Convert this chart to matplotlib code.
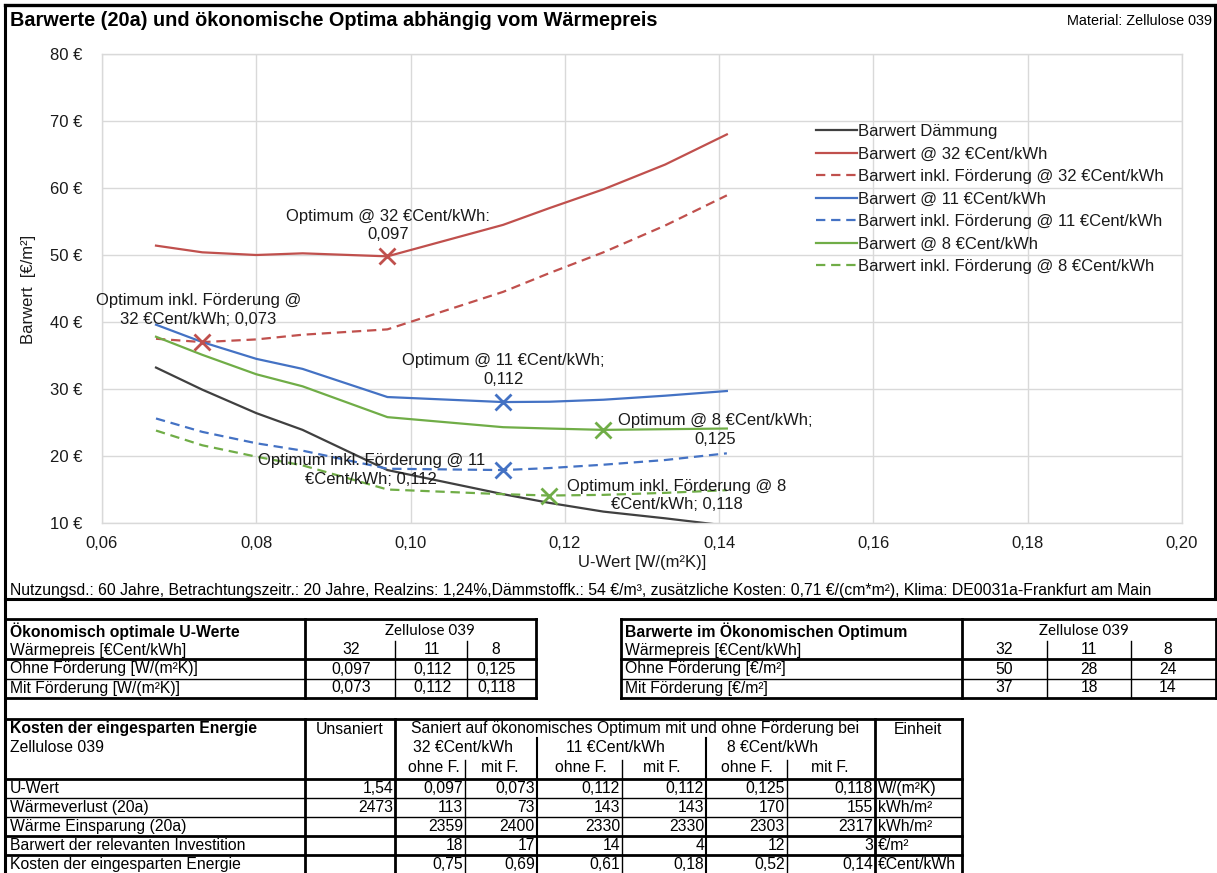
import matplotlib
matplotlib.use("Agg")
import matplotlib.pyplot as plt

plt.rcParams['font.family'] = ['Liberation Sans', 'DejaVu Sans']

W, H = 1217, 873

# ---------------- chart data ----------------
u_werte = [0.067, 0.073, 0.080, 0.086, 0.097, 0.112, 0.118, 0.125, 0.133, 0.141]
bw_daemmung = [33.2, 29.9, 26.4, 23.9, 17.9, 14.3, 13.0, 11.7, 10.7, 9.6]
bw_32 = [51.4, 50.4, 50.0, 50.25, 49.8, 54.5, 57.0, 59.8, 63.5, 68.0]
bw_32_f = [37.5, 37.0, 37.4, 38.1, 38.9, 44.5, 47.3, 50.4, 54.4, 58.9]
bw_11 = [39.6, 37.0, 34.5, 33.0, 28.8, 28.05, 28.1, 28.4, 29.0, 29.7]
bw_11_f = [25.6, 23.6, 21.9, 20.8, 18.1, 17.9, 18.2, 18.7, 19.4, 20.4]
bw_8 = [37.8, 35.1, 32.2, 30.4, 25.8, 24.3, 24.1, 23.9, 24.0, 24.1]
bw_8_f = [23.8, 21.6, 19.9, 18.6, 15.0, 14.3, 14.1, 14.2, 14.5, 14.9]

x_ticks = [0.06, 0.08, 0.10, 0.12, 0.14, 0.16, 0.18, 0.20]
y_ticks = [10, 20, 30, 40, 50, 60, 70, 80]

# ---------------- table data ----------------
waermepreise = [32, 11, 8]
opt_u_ohne = [0.097, 0.112, 0.125]
opt_u_mit = [0.073, 0.112, 0.118]
opt_bw_ohne = [50, 28, 24]
opt_bw_mit = [37, 18, 14]

kosten_zeilen = ["U-Wert", "Wärmeverlust (20a)", "Wärme Einsparung (20a)",
                 "Barwert der relevanten Investition", "Kosten der eingesparten Energie"]
kosten_dezimal = [3, 0, 0, 0, 2]
unsaniert = [1.54, 2473, None, None, None]
saniert = [
    [0.097, 0.073, 0.112, 0.112, 0.125, 0.118],
    [113, 73, 143, 143, 170, 155],
    [2359, 2400, 2330, 2330, 2303, 2317],
    [18, 17, 14, 4, 12, 3],
    [0.75, 0.69, 0.61, 0.18, 0.52, 0.14],
]
einheiten = ["W/(m²K)", "kWh/m²", "kWh/m²", "€/m²", "€Cent/kWh"]

C_BLACK = '#404040'
C_RED = '#C0504D'
C_BLUE = '#4472C4'
C_GREEN = '#70AD47'
TXT = '#1a1a1a'
FS = 12
TFS = 11.3


def de(v, d):
    return f"{v:.{d}f}".replace('.', ',')


fig = plt.figure(figsize=(W / 100, H / 100), dpi=100)
bg = fig.add_axes([0, 0, 1, 1])
bg.set_xlim(0, W)
bg.set_ylim(H, 0)
bg.axis('off')


def hline(y, x0, x1, lw=1.0, c='black'):
    bg.plot([x0, x1], [y, y], color=c, lw=lw, solid_capstyle='projecting')


def vline(x, y0, y1, lw=1.0, c='black'):
    bg.plot([x, x], [y0, y1], color=c, lw=lw, solid_capstyle='projecting')


def txt(x, y, s, ha='left', fs=TFS, **kw):
    bg.text(x, y, s, ha=ha, va='center', fontsize=fs, color='black', **kw)


# ---------------- chart frame and captions ----------------
hline(5, 5, 1215, 2.4)
hline(599, 5, 1215, 2.2)
vline(1215, 5, 599, 2.2)
vline(5, 5, H, 2.2)

txt(10, 20, "Barwerte (20a) und ökonomische Optima abhängig vom Wärmepreis",
    fs=14.3, fontweight='bold')
txt(1212, 21, "Material: Zellulose 039", ha='right', fs=10.4)
txt(10, 591, "Nutzungsd.: 60 Jahre, Betrachtungszeitr.: 20 Jahre, Realzins: 1,24%,"
    "Dämmstoffk.: 54 €/m³, zusätzliche Kosten: 0,71 €/(cm*m²), Klima: DE0031a-Frankfurt am Main",
    fs=11.3)
bg.text(29, 289, "Barwert  [€/m²]", rotation=90, ha='center', va='center', fontsize=FS, color=TXT)
bg.text(642, 563, "U-Wert [W/(m²K)]", ha='center', va='center', fontsize=FS, color=TXT)

# ---------------- chart ----------------
ax = fig.add_axes([102 / W, 1 - 523 / H, (1182 - 102) / W, (523 - 54) / H])
ax.set_xlim(x_ticks[0], x_ticks[-1])
ax.set_ylim(y_ticks[0], y_ticks[-1])
ax.set_xticks(x_ticks)
ax.set_xticklabels([de(v, 2) for v in x_ticks])
ax.set_yticks(y_ticks)
ax.set_yticklabels([f"{v} €" for v in y_ticks])
ax.tick_params(length=0, labelsize=FS, colors=TXT)
ax.tick_params(axis='y', pad=14)
ax.tick_params(axis='x', pad=9)
ax.grid(True, color='#d9d9d9', lw=1.0)
ax.set_axisbelow(True)
for sp in ax.spines.values():
    sp.set_color('#d9d9d9')
    sp.set_linewidth(1.0)

LW = 1.6
DASH = (0, (4.2, 2.6))
series = [
    (bw_daemmung, C_BLACK, '-', "Barwert Dämmung"),
    (bw_32, C_RED, '-', "Barwert @ 32 €Cent/kWh"),
    (bw_32_f, C_RED, DASH, "Barwert inkl. Förderung @ 32 €Cent/kWh"),
    (bw_11, C_BLUE, '-', "Barwert @ 11 €Cent/kWh"),
    (bw_11_f, C_BLUE, DASH, "Barwert inkl. Förderung @ 11 €Cent/kWh"),
    (bw_8, C_GREEN, '-', "Barwert @ 8 €Cent/kWh"),
    (bw_8_f, C_GREEN, DASH, "Barwert inkl. Förderung @ 8 €Cent/kWh"),
]
handles = []
for vals, col, ls, lab in series:
    h, = ax.plot(u_werte, vals, color=col, ls=ls, lw=LW, label=lab)
    handles.append(h)

# optimum markers with labels (offsets in pixels from the marker)
optima = [
    (bw_32, opt_u_ohne[0], C_RED, "Optimum @ 32 €Cent/kWh:\n0,097", (1, 31)),
    (bw_32_f, opt_u_mit[0], C_RED, "Optimum inkl. Förderung @\n32 €Cent/kWh; 0,073", (-4, 32)),
    (bw_11, opt_u_ohne[1], C_BLUE, "Optimum @ 11 €Cent/kWh;\n0,112", (0, 32)),
    (bw_8, opt_u_ohne[2], C_GREEN, "Optimum @ 8 €Cent/kWh;\n0,125", (112, 0)),
    (bw_11_f, opt_u_mit[1], C_BLUE, "Optimum inkl. Förderung @ 11\n€Cent/kWh; 0,112", (-132, 0)),
    (bw_8_f, opt_u_mit[2], C_GREEN, "Optimum inkl. Förderung @ 8\n€Cent/kWh; 0,118", (127, 0)),
]
for vals, u_opt, col, lab, off in optima:
    i = min(range(len(u_werte)), key=lambda k: abs(u_werte[k] - u_opt))
    ax.plot([u_werte[i]], [vals[i]], ls='none', marker='x', ms=11, mew=2.0, color=col, zorder=5)
    ax.annotate(lab, (u_werte[i], vals[i]), xytext=off, textcoords='offset pixels',
                ha='center', va='center', multialignment='center', fontsize=FS,
                color=TXT, linespacing=1.3, zorder=6)

leg = ax.legend(handles, [s[3] for s in series], loc='upper left',
                bbox_to_anchor=(816 / W, 1 - 124 / H), bbox_transform=fig.transFigure,
                frameon=False, fontsize=FS, handlelength=2.45, handletextpad=0.1,
                labelspacing=0.45, borderaxespad=0, borderpad=0)
for t in leg.get_texts():
    t.set_color(TXT)

# ---------------- table 1: economically optimal U-values ----------------
T, B = 619, 698
hline(T, 5, 536, 2)
hline(B, 5, 536, 2)
hline(659, 5, 536, 2)
hline(679, 5, 536, 1)
vline(305, T, B, 2)
vline(536, T, B, 2)
for x in (395, 467):
    vline(x, 641, B, 1)
txt(10, 631, "Ökonomisch optimale U-Werte", fontweight='bold')
txt(10, 650, "Wärmepreis [€Cent/kWh]")
txt(10, 669, "Ohne Förderung [W/(m²K)]")
txt(10, 688, "Mit Förderung [W/(m²K)]")
txt(430, 631, "Zellulose 039", ha='center', fs=10.9, family='Lato')
for x, p, a, b in zip((351, 432, 496), waermepreise, opt_u_ohne, opt_u_mit):
    txt(x, 650, str(p), ha='center')
    txt(x, 669, de(a, 3), ha='center')
    txt(x, 688, de(b, 3), ha='center')

# ---------------- table 2: present values at the optimum ----------------
hline(T, 621, 1216, 2)
hline(B, 621, 1216, 2)
hline(659, 621, 1216, 2)
hline(679, 621, 1216, 1)
vline(621, T, B, 2)
vline(962, T, B, 2)
vline(1216, T, B, 2)
for x in (1047, 1131):
    vline(x, 641, B, 1)
txt(625, 631, "Barwerte im Ökonomischen Optimum", fontweight='bold')
txt(625, 650, "Wärmepreis [€Cent/kWh]")
txt(625, 669, "Ohne Förderung [€/m²]")
txt(625, 688, "Mit Förderung [€/m²]")
txt(1084, 631, "Zellulose 039", ha='center', fs=10.9, family='Lato')
for x, p, a, b in zip((1004, 1089, 1168), waermepreise, opt_bw_ohne, opt_bw_mit):
    txt(x, 650, str(p), ha='center')
    txt(x, 669, str(a), ha='center')
    txt(x, 688, str(b), ha='center')

# ---------------- table 3: cost of saved energy ----------------
T3 = 719
row_lines = [779, 798, 817, 836, 855]
hline(T3, 5, 962, 2)
for y, lw in zip(row_lines, (2, 1, 1, 2, 2)):
    hline(y, 5, 962, lw)
for x in (305, 395, 875, 962):
    vline(x, T3, H, 2)
for x in (537, 706):
    vline(x, 738, H, 1.5)
for x in (465, 622, 787):
    vline(x, 760, H, 1)

txt(10, 729, "Kosten der eingesparten Energie", fontweight='bold')
txt(350, 729, "Unsaniert", ha='center')
txt(635, 729, "Saniert auf ökonomisches Optimum mit und ohne Förderung bei", ha='center')
txt(918, 729, "Einheit", ha='center')
txt(10, 748, "Zellulose 039")
for x, p in zip((463, 615, 773), waermepreise):
    txt(x, 748, f"{p} €Cent/kWh", ha='center')
for x, s in zip((434, 500, 581, 662, 747, 830),
                ["ohne F.", "mit F."] * 3):
    txt(x, 768, s, ha='center')

col_right = [465, 537, 622, 706, 787, 875]
for r, (lab, d) in enumerate(zip(kosten_zeilen, kosten_dezimal)):
    y = (row_lines[r] + (row_lines[r + 1] if r + 1 < len(row_lines) else 874)) / 2
    txt(10, y, lab)
    if unsaniert[r] is not None:
        ud = 2 if r == 0 else 0
        txt(393, y, de(unsaniert[r], ud), ha='right')
    for xr, v in zip(col_right, saniert[r]):
        txt(xr - 2, y, de(v, d), ha='right')
    txt(878, y, einheiten[r])

fig.savefig("out.png", dpi=100)
